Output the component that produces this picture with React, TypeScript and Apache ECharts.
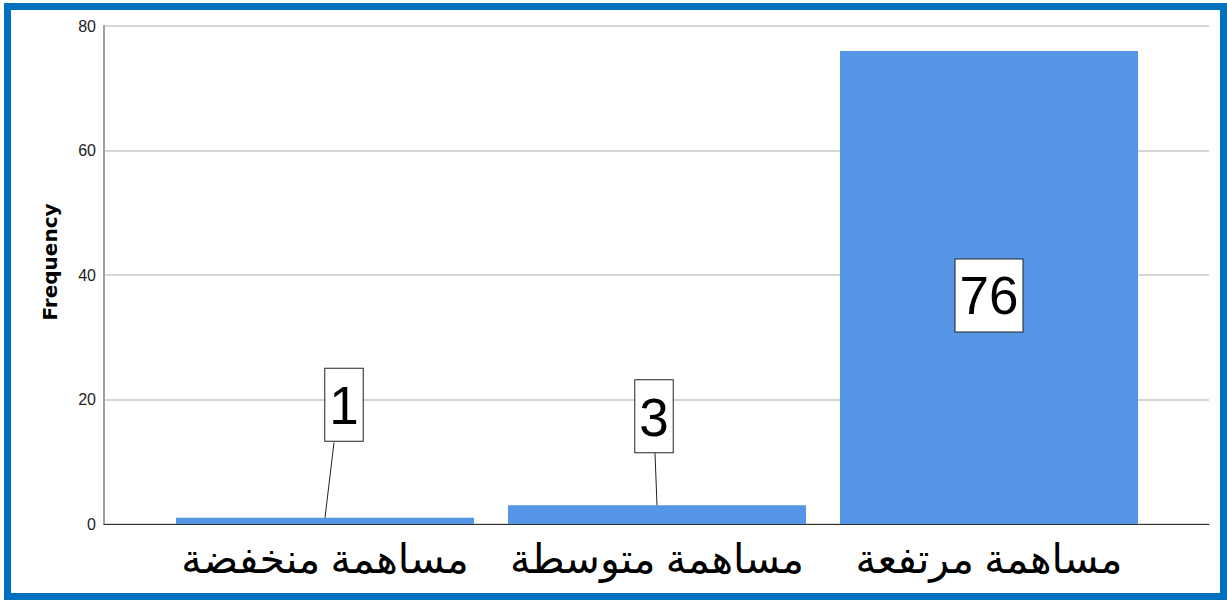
import React, { useEffect, useRef } from "react";
import * as echarts from "echarts";

const categories = ["مساهمة منخفضة", "مساهمة متوسطة", "مساهمة مرتفعة"];
const frequencies = [1, 3, 76];
const yTicks = { min: 0, max: 80, interval: 20 };
const yAxisTitle = "Frequency";

// label placement per bar (style only)
const labelPlacement = [
  { position: "top", distance: 77, offset: [19, 0] },
  { position: "top", distance: 53, offset: [-3, 0] },
  { position: "inside", distance: 0, offset: [0, 8] },
];
// leader lines: [categoryIndex, bar value, label-box bottom (in axis units), x shift at label end]
const leaderLines = [
  [0, 1, 13.1, 9],
  [1, 3, 11.4, -2],
];

export default function App() {
  const ref = useRef<HTMLDivElement>(null);
  useEffect(() => {
    if (!ref.current) return;
    const chart = echarts.init(ref.current, undefined, { renderer: "svg" });
    const data = frequencies.map((v, i) => {
      const p = labelPlacement[i];
      return {
        value: v,
        label: { position: p.position, distance: p.distance, offset: p.offset },
      };
    });
    chart.setOption({
      animation: false,
      backgroundColor: "#ffffff",
      graphic: [
        {
          type: "rect",
          shape: { x: 7.5, y: 6.5, width: 1216, height: 590 },
          style: { fill: "none", stroke: "#0070c0", lineWidth: 7 },
          silent: true,
          z: 100,
        },
      ],
      grid: [
        { left: 104, right: 18, top: 26, bottom: 76 },
        { left: 159, right: 72, top: 26, bottom: 76 },
      ],
      xAxis: [
        {
          type: "category",
          gridIndex: 0,
          data: [""],
          axisLine: { show: true, lineStyle: { color: "#333333", width: 1 } },
          axisTick: { show: false },
          axisLabel: { show: false },
          splitLine: { show: false },
        },
        {
          type: "category",
          gridIndex: 1,
          data: categories,
          axisLine: { show: false },
          axisTick: { show: false },
          axisLabel: {
            show: true,
            interval: 0,
            margin: 14,
            fontSize: 41,
            color: "#000000",
            fontFamily: "'Times New Roman', 'DejaVu Sans', serif",
          },
        },
      ],
      yAxis: [
        {
          type: "value",
          gridIndex: 0,
          min: yTicks.min,
          max: yTicks.max,
          interval: yTicks.interval,
          name: yAxisTitle,
          nameLocation: "middle",
          nameGap: 44,
          nameTextStyle: {
            fontSize: 20,
            fontWeight: "bold",
            color: "#000000",
            fontFamily: "'DejaVu Sans', sans-serif",
            padding: [0, 0, 0, 26],
          },
          axisLine: { show: true, lineStyle: { color: "#a0a0a0", width: 2 } },
          axisTick: { show: false },
          axisLabel: {
            fontSize: 16,
            color: "#222222",
            margin: 8,
            fontFamily: "'Liberation Sans', Arial, sans-serif",
          },
          splitLine: { show: true, lineStyle: { color: "#c8c8c8", width: 1.5 } },
        },
        {
          type: "value",
          gridIndex: 1,
          min: yTicks.min,
          max: yTicks.max,
          interval: yTicks.interval,
          show: false,
          splitLine: { show: false },
        },
      ],
      series: [
        {
          type: "bar",
          xAxisIndex: 1,
          yAxisIndex: 1,
          barWidth: 298,
          data,
          itemStyle: { color: "#5595e5" },
          label: {
            show: true,
            position: "top",
            fontSize: 53,
            lineHeight: 60,
            color: "#000000",
            fontFamily: "'Liberation Sans', Arial, sans-serif",
            backgroundColor: "#ffffff",
            borderColor: "#222222",
            borderWidth: 1,
            padding: [7, 4, 5, 4],
          },
          z: 5,
        },
        {
          type: "custom",
          xAxisIndex: 1,
          yAxisIndex: 1,
          data: leaderLines,
          encode: { x: 0, y: 1 },
          silent: true,
          z: 6,
          renderItem: (params: any, api: any) => {
            const c = api.value(0);
            const p0 = api.coord([c, api.value(1)]);
            const p1 = api.coord([c, api.value(2)]);
            return {
              type: "line",
              shape: { x1: p0[0], y1: p0[1], x2: p1[0] + api.value(3), y2: p1[1] },
              style: { stroke: "#222222", lineWidth: 1 },
            };
          },
        },
      ],
    });
    return () => chart.dispose();
  }, []);
  return (
    <div
      ref={ref}
      style={{ position: "fixed", left: 0, top: 0, width: 1227, height: 600 }}
    />
  );
}
